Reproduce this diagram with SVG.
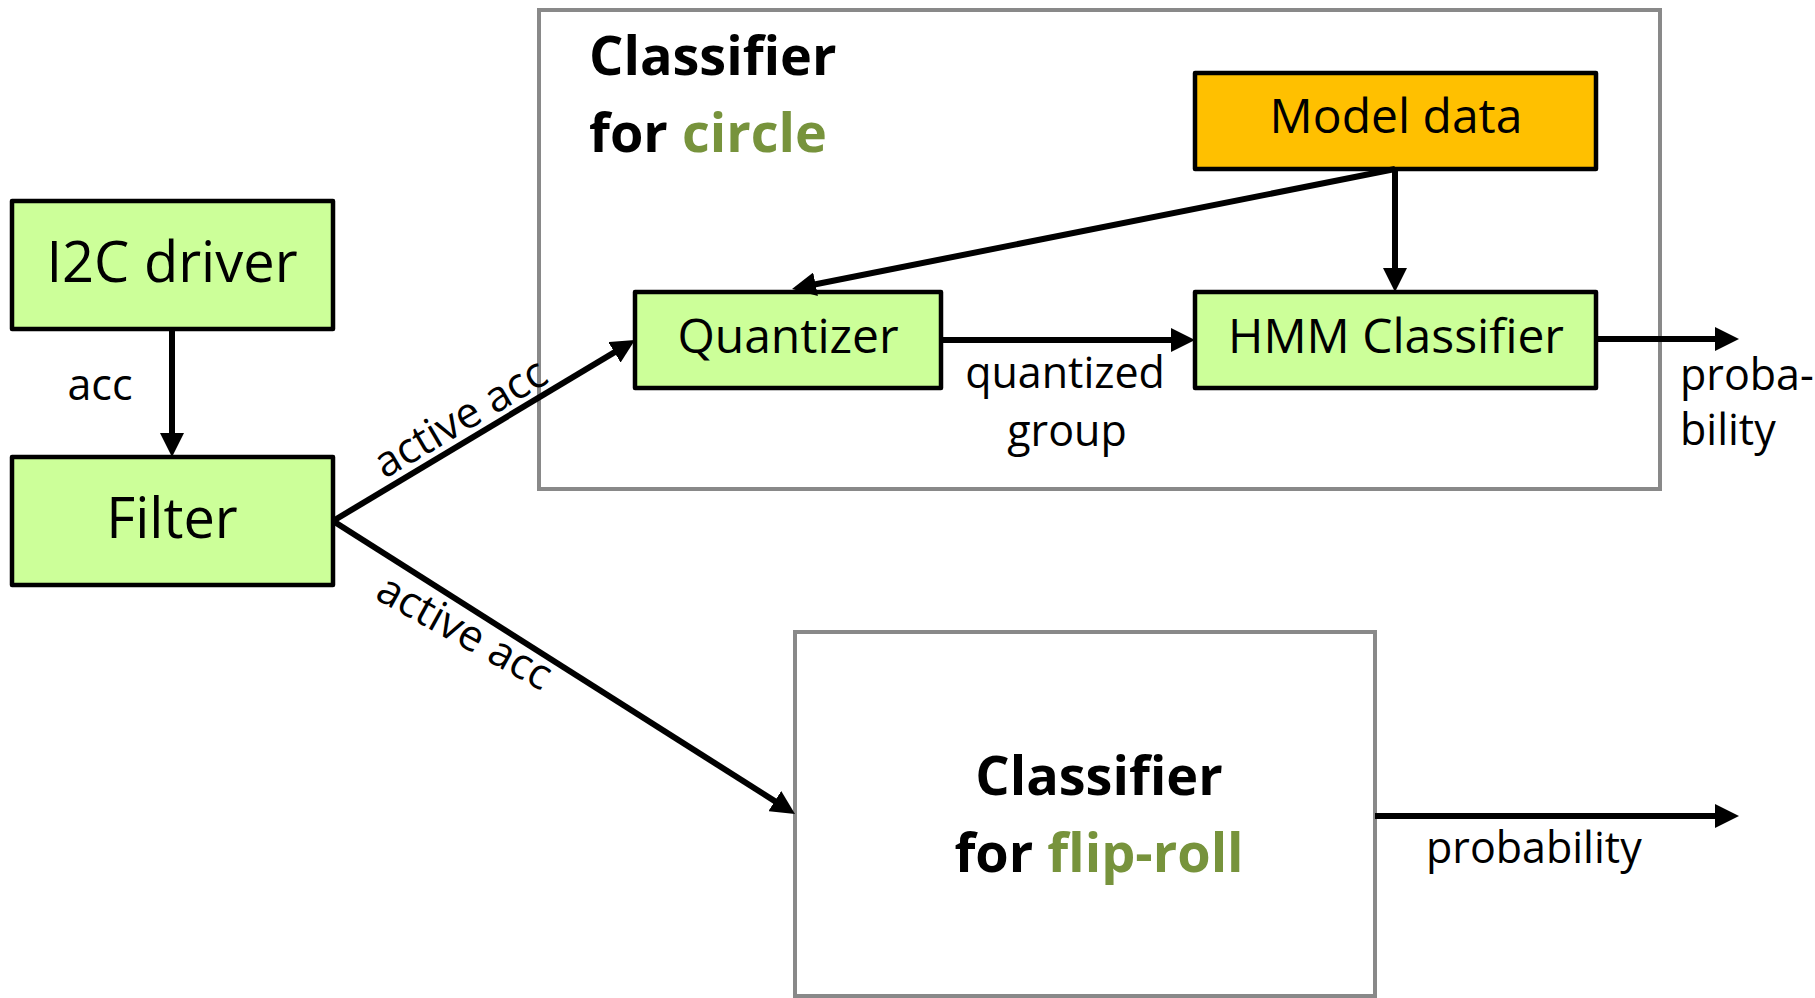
<svg xmlns="http://www.w3.org/2000/svg" width="1815" height="998" viewBox="0 0 1815 998">
<style>
text{font-family:"Open Sans","Noto Sans","Liberation Sans",sans-serif;fill:#000}
.box{fill:#CCFF99;stroke:#000;stroke-width:4.5;stroke-linejoin:round}
.orange{fill:#FFC000;stroke:#000;stroke-width:4.5;stroke-linejoin:round}
.frame{fill:none;stroke:#898989;stroke-width:4}
.big{font-size:56px}
.mid{font-size:48px}
.lbl{font-size:43px}
.title{font-size:54px;font-weight:bold}
.green{fill:#77933C}
.c{text-anchor:middle}
.conn line{stroke:#000;stroke-width:6;marker-end:url(#ah)}
</style>
<defs>
<marker id="ah" markerUnits="userSpaceOnUse" viewBox="0 0 24 24" markerWidth="24" markerHeight="24" refX="14" refY="12" orient="auto">
<path d="M0,0 L24,12 L0,24 z" fill="#000"/>
</marker>
</defs>
<rect width="1815" height="998" fill="#fff"/>
<g id="classifier-circle">
<rect class="frame" x="539" y="10" width="1121" height="479"/>
<text class="title" x="589" y="75">Classifier</text>
<text class="title" x="589" y="152">for <tspan class="green">circle</tspan></text>
</g>
<g id="classifier-fliproll">
<rect class="frame" x="795" y="632" width="580" height="364"/>
<text class="title c" x="1099" y="795">Classifier</text>
<text class="title c" x="1099" y="872">for <tspan class="green">flip-roll</tspan></text>
</g>
<g id="i2c-driver">
<rect class="box" x="12" y="201" width="321" height="128"/>
<text class="big c" x="172" y="282">I2C driver</text>
</g>
<g id="filter">
<rect class="box" x="12" y="457" width="321" height="128"/>
<text class="big c" x="172" y="538">Filter</text>
</g>
<g id="model-data">
<rect class="orange" x="1195" y="73" width="401" height="96"/>
<text class="mid c" x="1396" y="133">Model data</text>
</g>
<g id="quantizer">
<rect class="box" x="635" y="292" width="306" height="96"/>
<text class="mid c" x="788" y="353">Quantizer</text>
</g>
<g id="hmm-classifier">
<rect class="box" x="1195" y="292" width="401" height="96"/>
<text class="mid c" x="1396" y="353">HMM Classifier</text>
</g>
<g id="connectors" class="conn">
<line x1="172" y1="329" x2="172" y2="447"/>
<line x1="333" y1="521" x2="626.4" y2="345.1"/>
<line x1="333" y1="521" x2="786.6" y2="808.6"/>
<line x1="1395" y1="169" x2="801.8" y2="287"/>
<line x1="1395" y1="169" x2="1395" y2="282"/>
<line x1="941" y1="340" x2="1185" y2="340"/>
<line x1="1596" y1="339" x2="1729" y2="339"/>
<line x1="1375" y1="816" x2="1729" y2="816"/>
</g>
<g id="labels">
<text class="lbl c" x="100" y="400">acc</text>
<text class="lbl c" transform="translate(462,421) rotate(-30.5)" x="0" y="11">active acc</text>
<text class="lbl c" transform="translate(463,635) rotate(29)" x="0" y="11">active acc</text>
<text class="lbl c" x="1065" y="388">quantized</text>
<text class="lbl c" x="1067" y="446">group</text>
<text class="lbl" x="1680" y="390">proba-</text>
<text class="lbl" x="1680" y="445">bility</text>
<text class="lbl" x="1426" y="863">probability</text>
</g>
</svg>
